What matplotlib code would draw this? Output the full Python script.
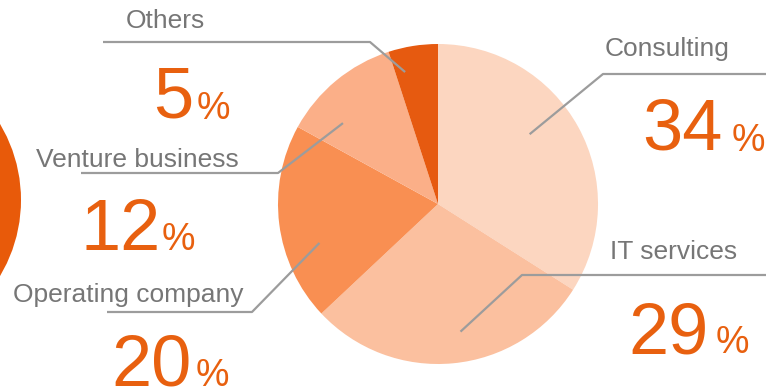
import matplotlib
matplotlib.use("Agg")
import matplotlib.pyplot as plt
import matplotlib.patches as mpatches
import numpy as np

# Revenue share by business segment
categories = ["Consulting", "IT services", "Operating company", "Venture business", "Others"]
shares = [34, 29, 20, 12, 5]
colors = ["#FCD6C0", "#FBC09F", "#F98F52", "#FBAF88", "#E65A10"]

W, H = 766, 388
CX, CY, R = 438, 204, 160

LABEL_GREY = "#767676"
LINE_GREY = "#9C9C9C"
PCT_ORANGE = "#E8600F"

# Label layout in pixel space (y grows downward)
# name: (label x, label baseline), (number centre x, baseline), (% x), leader path, anchor nudge
layout = {
    "Consulting": dict(lab=(605, 56), num=(682, 150), pct=(732, 151),
                       path=[(603, 74), (766, 74)], dang=-8.5, rf=0.72),
    "IT services": dict(lab=(610, 259), num=(669, 353), pct=(716, 353),
                        path=[(522, 275), (766, 275)], dang=-4.6, rf=0.81),
    "Operating company": dict(lab=(13, 302), num=(152, 386), pct=(196, 386),
                              path=[(252, 312), (107, 312)], dang=-11, rf=0.78),
    "Venture business": dict(lab=(36, 167), num=(121, 250), pct=(162, 250),
                             path=[(278, 173), (81, 173)], dang=-10, rf=0.78),
    "Others": dict(lab=(126, 28), num=(173, 118), pct=(197, 119),
                   path=[(370, 42), (103, 42)], dang=-5, rf=0.85),
}

fig = plt.figure(figsize=(W / 100, H / 100), dpi=100)
ax = fig.add_axes([0, 0, 1, 1])

# Decorative disc cut by the left edge
ax.add_patch(mpatches.Circle((-127, 200), 148, color="#E85A0A", lw=0, zorder=1))

# y axis points down, so counter-clockwise in data space reads clockwise on screen
ax.pie(shares, colors=colors, startangle=-90, counterclock=True,
       center=(CX, CY), radius=R, wedgeprops=dict(linewidth=0), frame=True)

ax.set_xlim(0, W)
ax.set_ylim(H, 0)
ax.set_aspect("equal")
ax.axis("off")

total = float(sum(shares))
cum = 0.0
for name, val in zip(categories, shares):
    spec = layout[name]
    mid = 360.0 * (cum + val / 2.0) / total
    cum += val
    theta = np.deg2rad(mid + spec["dang"])
    ax_pt = (CX + spec["rf"] * R * np.sin(theta), CY - spec["rf"] * R * np.cos(theta))
    pts = [ax_pt] + spec["path"]
    xs, ys = zip(*pts)
    ax.plot(xs, ys, color=LINE_GREY, lw=1.6, solid_capstyle="butt", zorder=5)

    ax.text(*spec["lab"], name, fontsize=19, color=LABEL_GREY,
            family="Liberation Sans", ha="left", va="baseline", zorder=6)
    ax.text(*spec["num"], f"{val}", fontsize=52, color=PCT_ORANGE,
            family="Liberation Sans", ha="center", va="baseline", zorder=6)
    ax.text(*spec["pct"], "%", fontsize=27, color=PCT_ORANGE,
            family="Liberation Sans", ha="left", va="baseline", zorder=6)

fig.savefig("out.png", dpi=100)
